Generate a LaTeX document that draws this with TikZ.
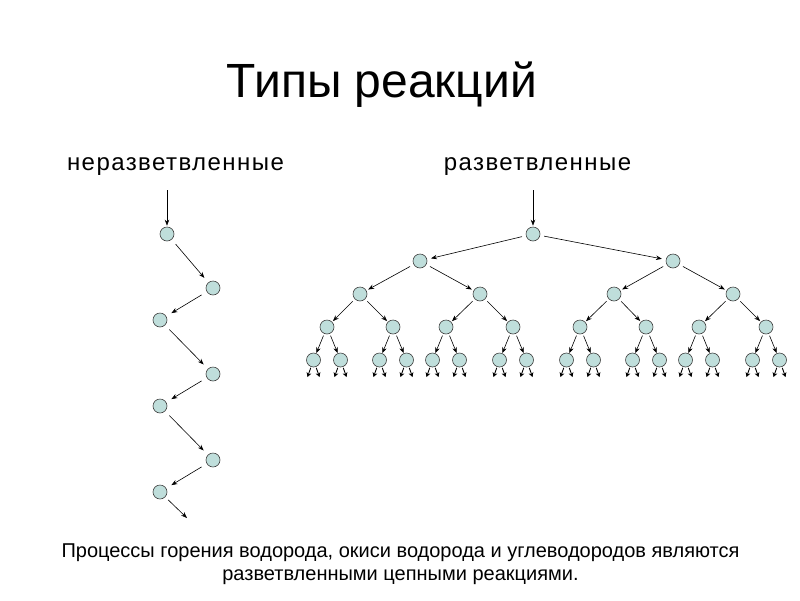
\documentclass[tikz,border=0pt]{standalone}
\usepackage{fontspec}
\setmainfont{Liberation Sans}
\newfontfamily\spacedfont[LetterSpace=6]{Liberation Sans}
\usetikzlibrary{arrows.meta,calc}
\definecolor{dotfill}{HTML}{BFDEDB}
\tikzset{
  dot/.style={circle,draw=black!75,line width=0.6pt,fill=dotfill,minimum size=14pt,inner sep=0pt},
  arr/.style={-{Stealth[length=6pt,width=4.5pt]},line width=0.6pt,shorten <=2pt,shorten >=1pt},
  tiny/.style={-{Stealth[length=4.5pt,width=5pt]},line width=0.9pt,shorten <=1pt},
  lbl/.style={anchor=base,inner sep=0pt,font=\spacedfont\fontsize{24}{28}\selectfont},
  notetxt/.style={anchor=base,inner sep=0pt,font=\fontsize{20}{24}\selectfont}
}
\begin{document}
\begin{tikzpicture}[x=1pt,y=-1pt]
\useasboundingbox (0,0) rectangle (800,600);
\node[anchor=base,inner sep=0pt,font=\fontsize{48}{56}\selectfont] (title) at (382,97) {Типы реакций};
\node[lbl] (lab1) at (175.5,170) {неразветвленные};
\node[lbl] (lab2) at (537.5,170) {разветвленные};
\node[notetxt] (note1) at (400.5,557) {Процессы горения водорода, окиси водорода и углеводородов являются};
\node[notetxt] (note2) at (400.5,580) {разветвленными цепными реакциями.};
% left chain
\coordinate (s1) at (167,190);
\node[dot] (p1) at (167,234) {};
\node[dot] (p2) at (213,288) {};
\node[dot] (p3) at (160,320) {};
\node[dot] (p4) at (213,374) {};
\node[dot] (p5) at (160,406) {};
\node[dot] (p6) at (213,460) {};
\node[dot] (p7) at (160,492) {};
\coordinate (e1) at (187,518);
\draw[arr,shorten <=0pt] (s1) -- (p1);
\draw[arr,shorten <=6pt,shorten >=6pt] (p1) -- (p2);
\draw[arr,shorten <=6pt,shorten >=6pt] (p2) -- (p3);
\draw[arr,shorten <=6pt,shorten >=6pt] (p3) -- (p4);
\draw[arr,shorten <=6pt,shorten >=6pt] (p4) -- (p5);
\draw[arr,shorten <=6pt,shorten >=6pt] (p5) -- (p6);
\draw[arr,shorten <=6pt,shorten >=6pt] (p6) -- (p7);
\draw[arr,shorten <=4pt,shorten >=0pt] (p7) -- (e1);
% tree
\coordinate (s2) at (533,190);
\node[dot] (r) at (533,234) {};
\draw[arr,shorten <=0pt] (s2) -- (r);
\node[dot] (a1) at (420,261) {};
\node[dot] (a2) at (673,261) {};
\draw[arr,shorten <=4pt,shorten >=4pt] (r) -- (a1);
\draw[arr,shorten <=4pt,shorten >=4pt] (r) -- (a2);
\foreach \x [count=\i] in {360,480,614,733} {
  \pgfmathtruncatemacro\p{(\i+1)/2}
  \node[dot] (b\i) at (\x,294) {};
  \draw[arr,shorten <=4pt,shorten >=2pt] (a\p) -- (b\i);
}
\foreach \x [count=\i] in {327,393,446,513,580,646,699,766} {
  \pgfmathtruncatemacro\p{(\i+1)/2}
  \node[dot] (c\i) at (\x,327) {};
  \draw[arr,shorten <=3pt,shorten >=1pt] (b\p) -- (c\i);
  \node[dot] (d\i-1) at (\x-13.5,360) {};
  \node[dot] (d\i-2) at (\x+13.5,360) {};
  \draw[arr,shorten <=2pt,shorten >=0pt] (c\i) -- (d\i-1);
  \draw[arr,shorten <=2pt,shorten >=0pt] (c\i) -- (d\i-2);
  \foreach \j in {1,2} {
    \coordinate (f\i-\j-l) at ($(d\i-\j)+(-6,17)$);
    \coordinate (f\i-\j-r) at ($(d\i-\j)+(6,17)$);
    \draw[tiny] (d\i-\j) -- (f\i-\j-l);
    \draw[tiny] (d\i-\j) -- (f\i-\j-r);
  }
}
\end{tikzpicture}
\end{document}
